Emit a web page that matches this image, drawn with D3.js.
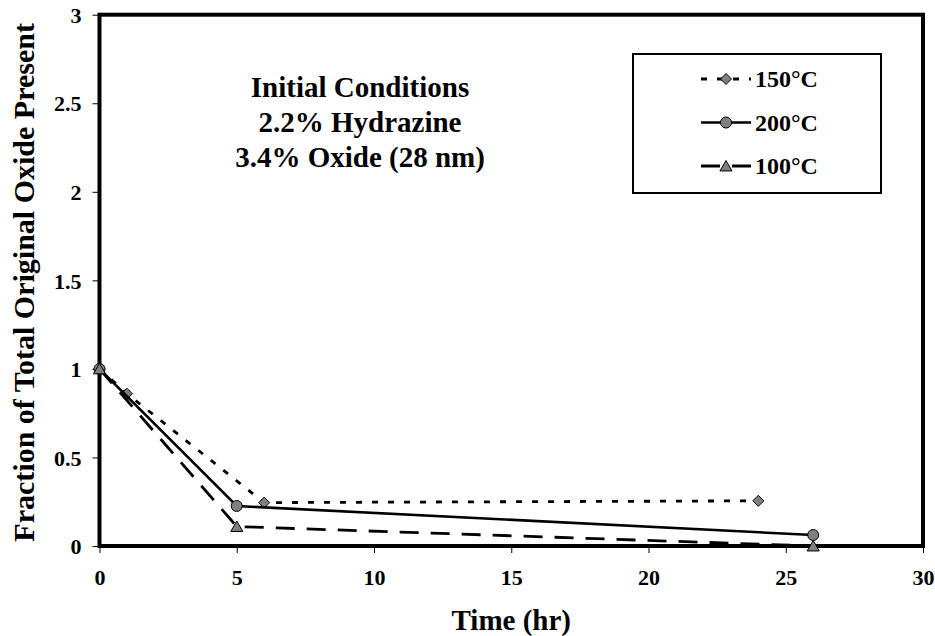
<!DOCTYPE html>
<html>
<head>
<meta charset="utf-8">
<script src="https://cdn.jsdelivr.net/npm/d3@7"></script>
<style>
  html, body { margin: 0; padding: 0; background: #fff; }
  svg { display: block; }
  text { font-family: "Liberation Serif", "Times New Roman", serif; font-weight: bold; fill: #000; }
</style>
</head>
<body>
<svg id="chart" width="935" height="636"></svg>
<script>
// Oxide remaining over time at three reaction temperatures
const series150 = [ {t: 0, f: 1.0}, {t: 1, f: 0.86}, {t: 6, f: 0.245}, {t: 24, f: 0.255} ];
const series200 = [ {t: 0, f: 1.0}, {t: 5, f: 0.226}, {t: 26, f: 0.062} ];
const series100 = [ {t: 0, f: 1.0}, {t: 5, f: 0.11}, {t: 26, f: 0.0} ];

const seriesNames = ["150°C", "200°C", "100°C"];
const xTicks = [0, 5, 10, 15, 20, 25, 30];
const yTicks = [0, 0.5, 1, 1.5, 2, 2.5, 3];
const noteLines = ["Initial Conditions", "2.2% Hydrazine", "3.4% Oxide (28 nm)"];
const xTitle = "Time (hr)";
const yTitle = "Fraction of Total Original Oxide Present";

const svg = d3.select("#chart");
const plot = { left: 99.5, right: 923, top: 14.7, bottom: 546 };
const serif = "'Liberation Serif', 'Times New Roman', serif";

const x = d3.scaleLinear().domain([0, 30]).range([plot.left, plot.right]);
const y = d3.scaleLinear().domain([0, 3]).range([plot.bottom, plot.top]);

// Axes (tick marks and labels only; the frame is drawn separately)
const xAxis = svg.append("g")
  .attr("transform", `translate(0,${plot.bottom})`)
  .call(d3.axisBottom(x).tickValues(xTicks).tickSize(7).tickFormat(d3.format("d")));
xAxis.select(".domain").remove();
xAxis.selectAll(".tick line").attr("stroke", "#000").attr("stroke-width", 1);
xAxis.selectAll(".tick text")
  .attr("y", 39).attr("dy", 0)
  .style("font-size", "22px")
  .style("font-family", serif).style("font-weight", "bold");

const yAxis = svg.append("g")
  .attr("transform", `translate(${plot.left},0)`)
  .call(d3.axisLeft(y).tickValues(yTicks).tickSize(7).tickFormat(d => String(d)));
yAxis.select(".domain").remove();
yAxis.selectAll(".tick line").attr("stroke", "#000").attr("stroke-width", 1);
yAxis.selectAll(".tick text")
  .attr("x", -18).attr("dy", "0.35em")
  .style("font-size", "22px")
  .style("font-family", serif).style("font-weight", "bold");

// Plot frame
svg.append("rect")
  .attr("x", plot.left).attr("y", plot.top)
  .attr("width", plot.right - plot.left).attr("height", plot.bottom - plot.top)
  .attr("fill", "none").attr("stroke", "#000").attr("stroke-width", 4);

// Axis titles
svg.append("text")
  .attr("x", (plot.left + plot.right) / 2).attr("y", 630)
  .attr("text-anchor", "middle")
  .style("font-size", "29px")
  .text(xTitle);

svg.append("text")
  .attr("transform", `translate(34,${(plot.top + plot.bottom) / 2 + 2}) rotate(-90)`)
  .attr("text-anchor", "middle")
  .style("font-size", "30px")
  .text(yTitle);

// Annotation block
svg.append("g").selectAll("text").data(noteLines).join("text")
  .attr("x", 360).attr("y", (d, i) => 97 + i * 35)
  .attr("text-anchor", "middle")
  .style("font-size", "29px")
  .text(d => d);

// Marker shapes
const markerFill = "#808080";
function diamondPath(s) { return `M0,${-s}L${s},0L0,${s}L${-s},0Z`; }
function trianglePath(s) { return `M0,${-s}L${s * 1.1},${s * 0.9}L${-s * 1.1},${s * 0.9}Z`; }

function drawMarker(g, kind, cx, cy) {
  if (kind === "circle") {
    g.append("circle").attr("cx", cx).attr("cy", cy).attr("r", 5.5)
      .attr("fill", markerFill).attr("stroke", "#000").attr("stroke-width", 1);
  } else if (kind === "diamond") {
    g.append("path").attr("d", diamondPath(5.5)).attr("transform", `translate(${cx},${cy})`)
      .attr("fill", markerFill).attr("stroke", "#000").attr("stroke-width", 1);
  } else {
    g.append("path").attr("d", trianglePath(5.5)).attr("transform", `translate(${cx},${cy})`)
      .attr("fill", markerFill).attr("stroke", "#000").attr("stroke-width", 1);
  }
}

const line = d3.line().x(d => x(d.t)).y(d => y(d.f));

const seriesDefs = [
  { name: seriesNames[0], data: series150, dash: "6,10", width: 2.8, marker: "diamond" },
  { name: seriesNames[1], data: series200, dash: null, width: 2.6, marker: "circle" },
  { name: seriesNames[2], data: series100, dash: "19,12", width: 2.8, marker: "triangle" }
];

const marks = svg.append("g");
seriesDefs.forEach(s => {
  const g = marks.append("g");
  g.append("path").datum(s.data)
    .attr("d", line)
    .attr("fill", "none").attr("stroke", "#000")
    .attr("stroke-width", s.width)
    .attr("stroke-dasharray", s.dash);
  s.data.forEach(d => drawMarker(g, s.marker, x(d.t), y(d.f)));
});

// Legend
const legend = svg.append("g");
legend.append("rect")
  .attr("x", 633).attr("y", 54).attr("width", 248).attr("height", 139)
  .attr("fill", "#fff").attr("stroke", "#000").attr("stroke-width", 2);

seriesDefs.forEach((s, i) => {
  const cy = 79 + i * 43.5;
  const row = legend.append("g");
  row.append("line")
    .attr("x1", 701).attr("x2", 751).attr("y1", cy).attr("y2", cy)
    .attr("stroke", "#000").attr("stroke-width", s.width)
    .attr("stroke-dasharray", s.dash);
  drawMarker(row, s.marker, 726, cy);
  row.append("text")
    .attr("x", 755).attr("y", cy).attr("dy", "0.35em")
    .style("font-size", "24px")
    .text(s.name);
});
</script>
</body>
</html>
